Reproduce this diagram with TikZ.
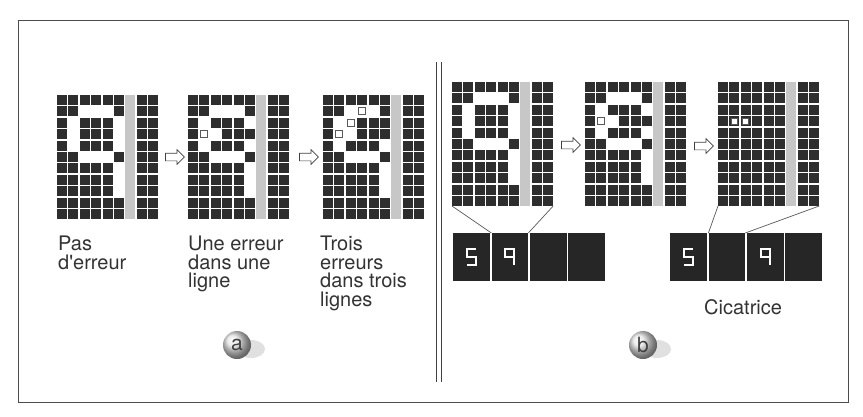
\documentclass[tikz,border=0pt]{standalone}
\usepackage{fontspec}
\setmainfont{TeX Gyre Heros}
\usetikzlibrary{shapes.arrows, positioning}

% rows of the bit grids: 0 white, 1 black, 2 flaw on white, 3 flaw on black
\newcommand\ninerows{{1,1,1,1,1,1},{1,1,0,0,0,1},{1,0,1,1,1,0},{1,0,1,1,1,0},{1,0,1,1,1,0},{1,1,0,0,0,1},{1,1,1,1,1,0},{1,1,1,1,1,0},{1,1,1,1,1,0},{1,1,1,1,1,1},{1,1,1,1,1,1}}
\newcommand\oneflawrows{{1,1,1,1,1,1},{1,1,0,0,0,1},{1,0,1,1,1,0},{1,2,0,1,1,1},{1,0,1,1,1,0},{1,1,0,0,0,1},{1,1,1,1,1,0},{1,1,1,1,1,0},{1,1,1,1,1,0},{1,1,1,1,1,1},{1,1,1,1,1,1}}
\newcommand\threeflawrows{{1,1,1,1,1,1},{1,1,0,2,0,1},{1,0,2,1,1,1},{1,2,0,1,1,1},{1,0,1,1,1,0},{1,1,0,0,0,1},{1,1,1,1,1,0},{1,1,1,1,1,0},{1,1,1,1,1,0},{1,1,1,1,1,1},{1,1,1,1,1,1}}
\newcommand\scarrows{{1,1,1,1,1,1},{1,1,1,1,1,1},{1,1,1,1,1,1},{1,3,3,1,1,1},{1,1,1,1,1,1},{1,1,1,1,1,1},{1,1,1,1,1,1},{1,1,1,1,1,1},{1,1,1,1,1,1},{1,1,1,1,1,1},{1,1,1,1,1,1}}

\newcommand\bitgrid[4]{% name, left, top, rows
  \begin{scope}[shift={(#2,#3)}]
    \fill[parity] (6*11.4,0) rectangle (6*11.4+10,124);
    \foreach \row [count=\r from 0] in #4 {
      \foreach \b [count=\c from 0] in \row {
        \ifcase\b\relax
        \or \fill[bit] (\c*11.4,\r*11.4) rectangle ++(10,10);
        \or \draw[flaw] (\c*11.4+1.5,\r*11.4+1.5) rectangle ++(7,7);
        \or \fill[bit] (\c*11.4,\r*11.4) rectangle ++(10,10);
            \draw[flaw] (\c*11.4+2,\r*11.4+2) rectangle ++(6,6);
        \fi
      }
      \foreach \c in {7,8}
        \fill[bit] (\c*11.4,\r*11.4) rectangle ++(10,10);
    }
    \coordinate (#1-sw) at (0,124);
    \coordinate (#1-se) at (101.2,124);
  \end{scope}}

\begin{document}
\begin{tikzpicture}[x=1pt, y=-1pt,
  bit/.style={fill=black!82},
  parity/.style={fill=black!22},
  flaw/.style={draw=black!65, fill=white, line width=1pt},
  flowarrow/.style={single arrow, draw=black!75, fill=white, line width=0.7pt,
    minimum height=19pt, inner xsep=1pt, inner ysep=3.5pt, single arrow head extend=3.5pt},
  dispbox/.style={fill=black!85, minimum width=36.5pt, minimum height=48pt, inner sep=0pt},
  seg/.style={white, line width=2pt},
  link/.style={draw=black!65, line width=0.7pt},
  caption/.style={anchor=north west, align=left, inner sep=0pt, text=black!80,
    font=\fontsize{20}{18.5}\selectfont},
  tag/.style={circle, shading=ball, ball color=black!10, minimum size=28pt, inner sep=0pt,
    text=black!75, font=\fontsize{21}{21}\selectfont},
  panelframe/.style={draw=black!70, line width=1pt},
  divider/.style={draw=black!75, line width=0.8pt}
]
\path[fill=white, use as bounding box] (0,0) rectangle (863,416);
\draw[panelframe] (18,20) rectangle (848,402);
\draw[divider] (436,62) -- (436,382);
\draw[divider] (441,62) -- (441,382);

% panel a
\bitgrid{ga}{57}{95}{\ninerows}
\bitgrid{gb}{188}{95}{\oneflawrows}
\bitgrid{gc}{323}{95}{\threeflawrows}
\node[flowarrow] (fa) at (173,157) {};
\node[flowarrow] (fb) at (307,157) {};
\node[caption] (pas) at (58,236) {Pas\\d\textquotesingle erreur};
\node[caption] (une) at (188,236) {Une erreur\\dans une\\ligne};
\node[caption] (trois) at (320,236) {Trois\\erreurs\\dans trois\\lignes};
\fill[black!12] (251,349) ellipse (14 and 9);
\node[tag] (taga) at (237,345) {a};

% panel b
\bitgrid{gd}{452}{82}{\ninerows}
\bitgrid{ge}{585}{82}{\oneflawrows}
\bitgrid{gf}{718}{82}{\scarrows}
\node[flowarrow] (fc) at (569,145) {};
\node[flowarrow] (fd) at (702,146) {};

\node[dispbox, anchor=north west] (d1) at (453,233) {};
\node[dispbox, right=1.5pt of d1] (d2) {};
\node[dispbox, right=1.5pt of d2] (d3) {};
\node[dispbox, right=1.5pt of d3] (d4) {};
\node[dispbox, anchor=north west] (e1) at (670,233) {};
\node[dispbox, right=1.5pt of e1] (e2) {};
\node[dispbox, right=1.5pt of e2] (e3) {};
\node[dispbox, right=1.5pt of e3] (e4) {};
\begin{scope}[shift={(d1.center)}]
  \draw[seg] (4.5,-8) -- (-4.5,-8) -- (-4.5,0) -- (4.5,0) -- (4.5,8) -- (-4.5,8);
\end{scope}
\begin{scope}[shift={(d2.center)}]
  \draw[seg] (4.5,0) -- (-4.5,0) -- (-4.5,-8) -- (4.5,-8) -- (4.5,8);
\end{scope}
\begin{scope}[shift={(e1.center)}]
  \draw[seg] (4.5,-8) -- (-4.5,-8) -- (-4.5,0) -- (4.5,0) -- (4.5,8) -- (-4.5,8);
\end{scope}
\begin{scope}[shift={(e3.center)}]
  \draw[seg] (4.5,0) -- (-4.5,0) -- (-4.5,-8) -- (4.5,-8) -- (4.5,8);
\end{scope}
\draw[link] (gd-sw) -- (d2.north west);
\draw[link] (gd-se) -- (d2.north east);
\draw[link] (gf-sw) -- (e2.north west);
\draw[link] (gf-se) -- (e2.north east);
\node[caption] (cicatrice) at (704,299) {Cicatrice};
\fill[black!12] (657,349) ellipse (14 and 9);
\node[tag] (tagb) at (643,345) {b};
\end{tikzpicture}
\end{document}
